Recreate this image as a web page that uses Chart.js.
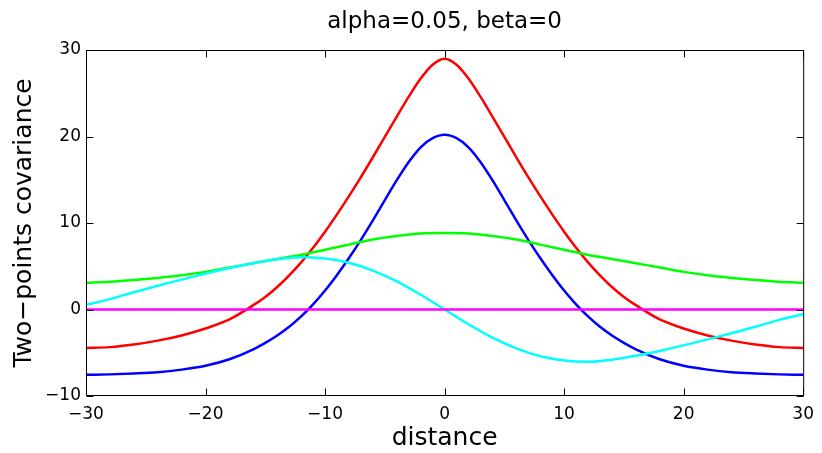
<!DOCTYPE html>
<html>
<head>
<meta charset="utf-8">
<script src="https://cdn.jsdelivr.net/npm/chart.js@4/dist/chart.umd.min.js"></script>
<style>
  html, body { margin: 0; padding: 0; background: #fff; }
  canvas { display: block; }
</style>
</head>
<body>
<canvas id="cov" width="822" height="453"></canvas>
<script>
// Distance grids: a coarse one for the slow curves, a finer one through the central peak
const distanceCoarse = [-30, -28, -26, -24, -22, -20, -18, -16, -14, -12, -10, -8, -6, -4, -2, 0,
                        2, 4, 6, 8, 10, 12, 14, 16, 18, 20, 22, 24, 26, 28, 30];
const distanceFine = [-30, -28, -26, -24, -22, -20, -18, -16, -15, -14, -13, -12, -11, -10, -9, -8,
                      -7, -6, -5, -4, -3, -2, -1, 0, 1, 2, 3, 4, 5, 6, 7, 8, 9, 10, 11, 12, 13, 14,
                      15, 16, 18, 20, 22, 24, 26, 28, 30];

// Two-point covariance curves (red and blue on the fine grid)
const redCov = [-4.45, -4.35, -4.05, -3.6, -3.0, -2.2, -1.15, 0.5, 1.45, 2.6, 3.95, 5.45, 7.15, 9.0, 11.0, 13.1,
                15.3, 17.6, 19.95, 22.3, 24.6, 26.7, 28.3, 29.0, 28.3, 26.7, 24.6, 22.3, 19.95, 17.6, 15.3,
                13.1, 11.0, 9.0, 7.15, 5.45, 3.95, 2.6, 1.45, 0.5, -1.15, -2.2, -3.0, -3.6, -4.05, -4.35, -4.45];
const blueCov = [-7.55, -7.5, -7.4, -7.25, -6.95, -6.5, -5.75, -4.6, -3.85, -3.0, -2.0, -0.8, 0.6, 2.2, 4.0, 5.95,
                 8.05, 10.3, 12.65, 14.95, 17.05, 18.75, 19.8, 20.2, 19.8, 18.75, 17.05, 14.95, 12.65, 10.3, 8.05,
                 5.95, 4.0, 2.2, 0.6, -0.8, -2.0, -3.0, -3.85, -4.6, -5.75, -6.5, -6.95, -7.25, -7.4, -7.5, -7.55];
const greenCov = [3.1, 3.2, 3.4, 3.65, 3.95, 4.35, 4.85, 5.35, 5.85, 6.3, 6.9, 7.5, 8.1, 8.5, 8.8, 8.85,
                  8.8, 8.5, 8.1, 7.5, 6.9, 6.3, 5.85, 5.35, 4.85, 4.35, 3.95, 3.65, 3.4, 3.2, 3.1];
const cyanCov = [0.55, 1.2, 2.0, 2.75, 3.45, 4.15, 4.8, 5.35, 5.8, 6.05, 5.9, 5.4, 4.5, 3.25, 1.7, 0,
                 -1.7, -3.25, -4.5, -5.4, -5.9, -6.05, -5.8, -5.35, -4.8, -4.15, -3.45, -2.75, -2.0, -1.2, -0.55];
const magentaCov = [0, 0, 0, 0, 0, 0, 0, 0, 0, 0, 0, 0, 0, 0, 0, 0,
                    0, 0, 0, 0, 0, 0, 0, 0, 0, 0, 0, 0, 0, 0, 0];

// Axis ticks and texts
const xTicks = [-30, -20, -10, 0, 10, 20, 30];
const yTicks = [-10, 0, 10, 20, 30];
const titleText = 'alpha=0.05, beta=0';
const xLabel = 'distance';
const yLabel = 'Two\u2212points covariance';

const FONT = '"DejaVu Sans", "Liberation Sans", Arial, sans-serif';

function pts(grid, values) {
  return grid.map((d, i) => ({ x: d, y: values[i] }));
}
function fmt(v) {
  return v < 0 ? '\u2212' + Math.abs(v) : String(v);
}

// Closed axes box with inward tick marks on all four sides
const boxTicks = {
  id: 'boxTicks',
  afterDatasetsDraw(chart) {
    const { ctx, chartArea: a, scales: { x, y } } = chart;
    const len = 7;
    const L = a.left + 0.5, R = a.right + 0.5, T = a.top + 0.5, B = a.bottom - 0.5;
    ctx.save();
    ctx.strokeStyle = '#000';
    ctx.lineWidth = 1;
    ctx.beginPath();
    ctx.rect(L, T, R - L, B - T);
    xTicks.forEach(v => {
      const px = Math.round(x.getPixelForValue(v)) + 0.5;
      ctx.moveTo(px, B); ctx.lineTo(px, B - len);
      ctx.moveTo(px, T); ctx.lineTo(px, T + len);
    });
    yTicks.forEach(v => {
      const py = Math.round(y.getPixelForValue(v)) + 0.5;
      ctx.moveTo(L, py); ctx.lineTo(L + len, py);
      ctx.moveTo(R, py); ctx.lineTo(R - len, py);
    });
    ctx.stroke();
    ctx.restore();
  }
};

const line = (grid, values, color) => ({
  data: pts(grid, values),
  borderColor: color,
  backgroundColor: color,
  borderWidth: 2.5,
  pointRadius: 0,
  fill: false,
  cubicInterpolationMode: 'monotone'
});

new Chart(document.getElementById('cov'), {
  type: 'line',
  data: {
    datasets: [
      line(distanceCoarse, magentaCov, '#ff00ff'),
      line(distanceCoarse, cyanCov, '#00ffff'),
      line(distanceCoarse, greenCov, '#00ff00'),
      line(distanceFine, blueCov, '#0000ff'),
      line(distanceFine, redCov, '#ff0000')
    ]
  },
  options: {
    responsive: false,
    animation: false,
    devicePixelRatio: 1,
    layout: { padding: { top: 0, right: 16, bottom: 0, left: 0 } },
    plugins: {
      legend: { display: false },
      tooltip: { enabled: false },
      title: {
        display: true,
        text: titleText,
        fullSize: false,
        color: '#000',
        font: { family: FONT, size: 23, weight: 'normal', lineHeight: 1.2 },
        padding: { top: 8, bottom: 14.4 }
      }
    },
    scales: {
      x: {
        type: 'linear',
        min: -30, max: 30,
        grid: { display: false, drawTicks: false },
        border: { display: false },
        afterBuildTicks: s => { s.ticks = xTicks.map(v => ({ value: v })); },
        afterFit: s => { s.height = 57; },
        ticks: {
          color: '#000',
          padding: 8,
          maxRotation: 0,
          font: { family: FONT, size: 17 },
          callback: v => fmt(v)
        },
        title: {
          display: true,
          text: xLabel,
          color: '#000',
          font: { family: FONT, size: 25 },
          padding: { top: 0, bottom: 0 }
        }
      },
      y: {
        type: 'linear',
        min: -10, max: 30,
        grid: { display: false, drawTicks: false },
        border: { display: false },
        afterBuildTicks: s => { s.ticks = yTicks.map(v => ({ value: v })); },
        afterFit: s => { s.width = 86; },
        ticks: {
          color: '#000',
          padding: 5,
          font: { family: FONT, size: 17 },
          callback: v => fmt(v)
        },
        title: {
          display: true,
          text: yLabel,
          color: '#000',
          font: { family: FONT, size: 25 },
          padding: { top: 9, bottom: 0 }
        }
      }
    }
  },
  plugins: [boxTicks]
});
</script>
</body>
</html>
